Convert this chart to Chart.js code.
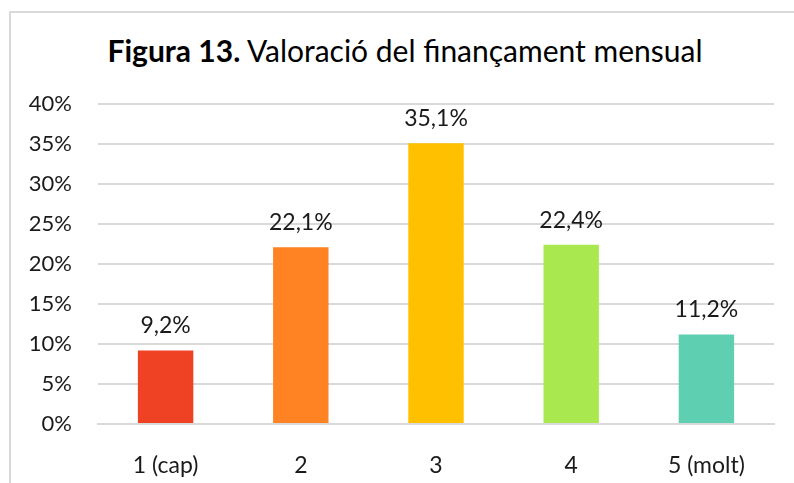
<!DOCTYPE html>
<html>
<head>
<meta charset="utf-8">
<script src="https://cdn.jsdelivr.net/npm/chart.js@4/dist/chart.umd.min.js"></script>
<style>
  body { margin: 0; background: #fff; }
  #wrap { position: relative; width: 794px; height: 483px; overflow: hidden; }
  #frame { position: absolute; left: 9px; top: 11px; width: 800px; height: 500px;
           border-left: 2px solid #d9d9d9; border-top: 2px solid #d9d9d9; }
  #title { position: absolute; left: 9px; width: 792px; top: 30px; text-align: center;
           font-family: Lato, sans-serif; font-size: 30px; color: #000; line-height: 40px; }
  canvas { position: absolute; left: 0; top: 0; }
</style>
</head>
<body>
<div id="wrap">
  <div id="frame"></div>
  <div id="title"><b>Figura 13.</b> Valoració del finançament mensual</div>
  <canvas id="chart" width="794" height="483"></canvas>
</div>
<script>
// Valoració 1..5, percentatge de respostes
const categories = ['1 (cap)', '2', '3', '4', '5 (molt)'];
const values = [9.2, 22.1, 35.1, 22.4, 11.2];
const barColors = ['#ef4123', '#ff8322', '#ffc000', '#a9e94f', '#5ecfb1'];
const yTicks = [0, 5, 10, 15, 20, 25, 30, 35, 40];

function pct(v) {
    return v.toFixed(1).replace('.', ',') + '%';
}

// Draw the value labels above each bar
const valueLabels = {
    id: 'valueLabels',
    afterDatasetsDraw(chart) {
        const ctx = chart.ctx;
        const meta = chart.getDatasetMeta(0);
        ctx.save();
        ctx.font = '23px Lato, sans-serif';
        ctx.fillStyle = '#1a1a1a';
        ctx.textAlign = 'center';
        ctx.textBaseline = 'alphabetic';
        meta.data.forEach((bar, i) => {
            ctx.fillText(pct(values[i]), bar.x, bar.y - 17);
        });
        ctx.restore();
    }
};

const ctx = document.getElementById('chart').getContext('2d');
const chart = new Chart(ctx, {
    type: 'bar',
    data: {
        labels: categories,
        datasets: [{
            data: values,
            backgroundColor: barColors,
            categoryPercentage: 1,
            barPercentage: 0.41
        }]
    },
    options: {
        responsive: false,
        animation: false,
        layout: { padding: { top: 104, right: 20, left: 0, bottom: 0 } },
        plugins: {
            legend: { display: false },
            tooltip: { enabled: false }
        },
        scales: {
            x: {
                grid: { display: false },
                border: { color: '#d9d9d9', width: 2 },
                ticks: { color: '#1a1a1a', font: { family: 'Lato', size: 23 }, padding: 20 },
                afterFit(scale) { scale.height = 59; }
            },
            y: {
                min: 0,
                max: 40,
                afterBuildTicks(scale) { scale.ticks = yTicks.map(v => ({ value: v })); },
                grid: { color: '#d9d9d9', lineWidth: 2, drawTicks: false },
                border: { display: false },
                ticks: {
                    color: '#1a1a1a',
                    font: { family: 'Lato', size: 22 },
                    padding: 26,
                    callback: v => v + '%'
                },
                afterFit(scale) { scale.width = 98; }
            }
        }
    },
    plugins: [valueLabels]
});
</script>
</body>
</html>
